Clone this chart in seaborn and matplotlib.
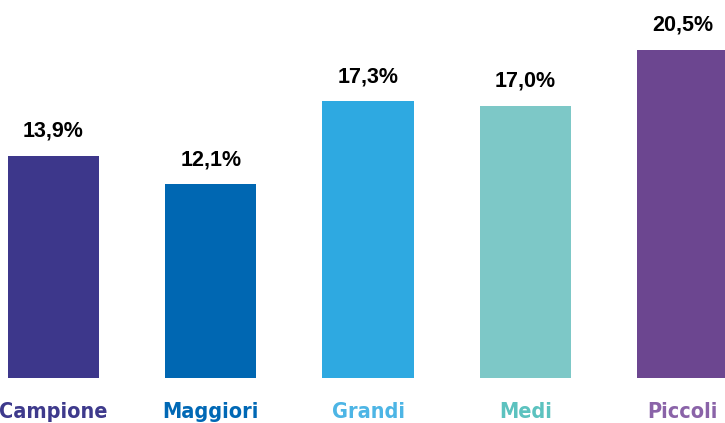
import matplotlib
matplotlib.use("Agg")
import matplotlib.pyplot as plt
import seaborn as sns
import pandas as pd

categories = ["Campione", "Maggiori", "Grandi", "Medi", "Piccoli"]
values = [13.9, 12.1, 17.3, 17.0, 20.5]
value_labels = ["13,9%", "12,1%", "17,3%", "17,0%", "20,5%"]
bar_colors = ["#3D378B", "#0067B2", "#2EA9E1", "#7DC8C7", "#6C4690"]
text_colors = ["#3E3A8C", "#0068B5", "#4DB5E5", "#5CC2BF", "#8A63A8"]

df = pd.DataFrame({"categoria": categories, "valore": values})

sns.set_theme(style="white")
plt.rcParams["font.family"] = ["Liberation Sans", "DejaVu Sans"]

fig = plt.figure(figsize=(7.25, 4.23), dpi=100)
ax = fig.add_axes([0, 0, 1, 1])

sns.barplot(data=df, x="categoria", y="valore", hue="categoria",
            palette=bar_colors, width=0.58, saturation=1, legend=False,
            linewidth=0, ax=ax)

ax.set_xlim(-0.34, 4.27)
ax.set_ylim(-45 / 16, 378 / 16)
ax.set_axis_off()

for i, (v, lab) in enumerate(zip(values, value_labels)):
    ax.annotate(lab, (i, v), xytext=(0, 13.7), textcoords="offset points",
                ha="center", va="baseline", fontsize=15.5, fontweight="bold",
                color="black")

for i, (cat, col) in enumerate(zip(categories, text_colors)):
    ax.text(i, -2.5, cat, ha="center", va="baseline", fontsize=15.5,
            fontweight="bold", fontstretch="condensed", color=col,
            family=["DejaVu Sans"])

fig.savefig("out.png", dpi=100, facecolor="white")
